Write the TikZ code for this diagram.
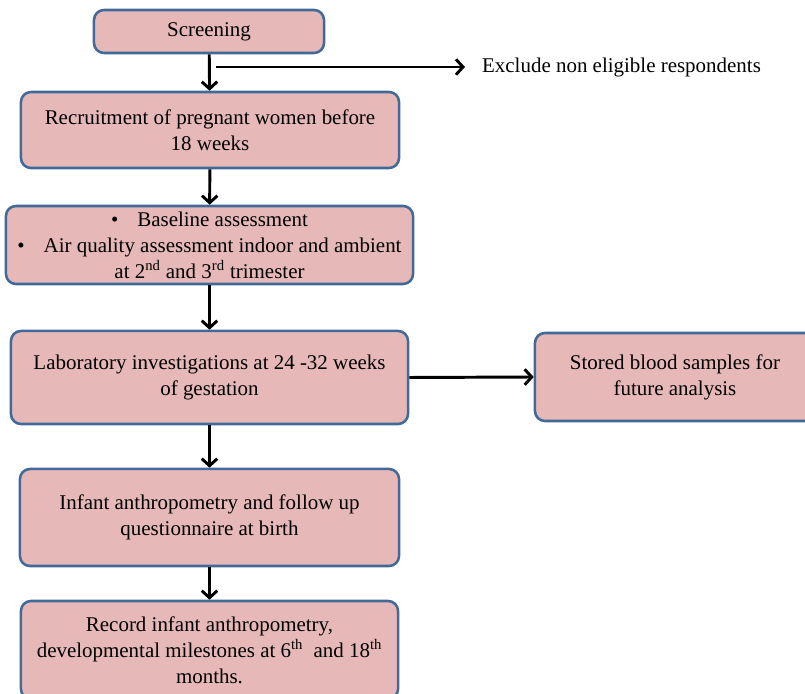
\documentclass[tikz,border=0pt]{standalone}
\usepackage{fontspec}
\setmainfont{Liberation Serif}
\usepackage{tikz}
\usepackage{xcolor}
\usetikzlibrary{arrows.meta}

\definecolor{boxfill}{HTML}{E6B8B7}
\definecolor{boxline}{RGB}{65,106,152}

\tikzset{
    stagebox/.style={draw=boxline,fill=boxfill,line width=1.8pt,rounded corners=0.25cm,
        align=center,inner sep=2pt,font=\fontsize{14.9}{18.4}\selectfont},
    flow/.style={line width=2.1pt,-{Straight Barb[length=5pt,width=11pt]}}
}

\begin{document}
\begin{tikzpicture}[x=0.025cm,y=-0.025cm]
    \useasboundingbox (0,0) rectangle (805,694);
    \clip (0,0) rectangle (805,694);

    % main column
    \node (screen) at (209,31.5) [stagebox,minimum width=5.75cm,minimum height=1.075cm] {Screening};
    \node (recruit) at (210,130) [stagebox,minimum width=9.45cm,minimum height=1.9cm]
        {Recruitment of pregnant women before\\18 weeks};
    \node (baseline) at (209.5,245) [stagebox,minimum width=10.175cm,minimum height=1.95cm]
        {\textbullet\hspace{0.9em}Baseline assessment\\
         \textbullet\hspace{0.9em}Air quality assessment indoor and ambient\\
         at 2\textsuperscript{nd} and 3\textsuperscript{rd} trimester};
    \node (lab) at (209.5,377.5) [stagebox,minimum width=9.925cm,minimum height=2.325cm]
        {Laboratory investigations at 24 -32 weeks\\of gestation};
    \node (infant) at (209.5,517.5) [stagebox,minimum width=9.475cm,minimum height=2.425cm]
        {Infant anthropometry and follow up\\questionnaire at birth};
    \node (record) at (209.5,650) [stagebox,minimum width=9.425cm,minimum height=2.45cm]
        {Record infant anthropometry,\\
         developmental milestones at 6\textsuperscript{th}\ \ and 18\textsuperscript{th}\\
         months.};

    % side branches
    \node (stored) at (675,377) [stagebox,minimum width=7cm,minimum height=2.2cm]
        {Stored blood samples for\\future analysis};
    \node (exclude) at (465,67) [anchor=west,inner xsep=12pt,inner ysep=0pt,
        font=\fontsize{14.9}{18.4}\selectfont] {Exclude non eligible respondents};
    \coordinate (fork) at (216,67);

    % arrows
    \draw [flow] (screen) -- (recruit);
    \draw [flow] (recruit) -- (baseline);
    \draw [flow] (baseline) -- (lab);
    \draw [flow] (lab) -- (infant);
    \draw [flow] (infant) -- (record);
    \draw [flow] (fork) -- (exclude.west);
    \draw [flow] (lab.east) -- (stored.west);
\end{tikzpicture}
\end{document}
